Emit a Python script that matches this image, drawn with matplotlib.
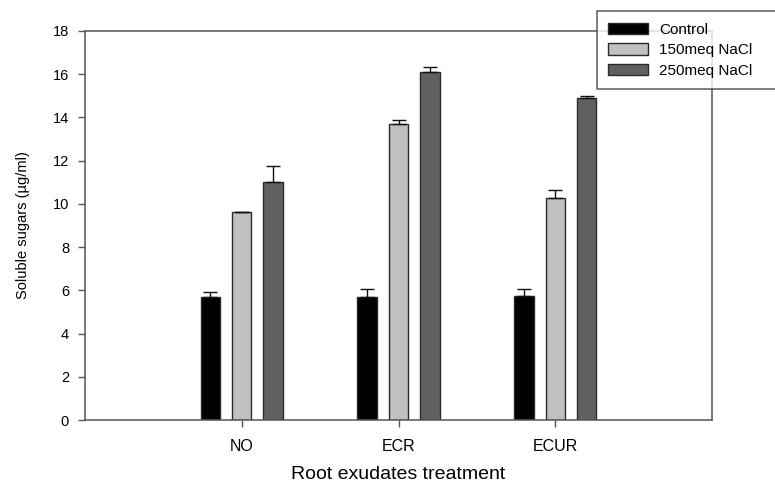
import numpy as np
import matplotlib
matplotlib.use("Agg")
import matplotlib.pyplot as plt
from matplotlib.patches import Patch

# ---------- Data ----------
TREATMENTS = ["NO", "ECR", "ECUR"]
SERIES = ["Control", "150meq NaCl", "250meq NaCl"]
MEANS = {
    "Control":     [5.71, 5.71, 5.76],
    "150meq NaCl": [9.61, 13.70, 10.29],
    "250meq NaCl": [11.03, 16.08, 14.92],
}
ERRS = {
    "Control":     [0.23, 0.35, 0.30],
    "150meq NaCl": [0.02, 0.19, 0.37],
    "250meq NaCl": [0.70, 0.26, 0.05],
}
YTICKS = [0, 2, 4, 6, 8, 10, 12, 14, 16, 18]

# ---------- Style ----------
COLORS = ["#000000", "#c0c0c0", "#606060"]
EDGE = "#2a2a2a"
AXC = "#555555"
plt.rcParams.update({
    "font.family": ["Liberation Sans", "DejaVu Sans"],
    "axes.edgecolor": AXC,
    "axes.linewidth": 1.1,
})

fig = plt.figure(figsize=(7.75, 4.84), dpi=100)
ax = fig.add_axes([0.1097, 0.1322, 0.8090, 0.8038])

x = np.arange(len(TREATMENTS))
width = 0.124
step = 0.2
for i, (name, color) in enumerate(zip(SERIES, COLORS)):
    pos = x + (i - 1) * step
    vals = np.array(MEANS[name])
    err = np.array(ERRS[name])
    ax.bar(pos, vals, width=width, color=color, edgecolor=EDGE, linewidth=1.0, zorder=2)
    ax.errorbar(pos, vals, yerr=[np.zeros_like(err), err], fmt="none",
                ecolor="#111111", elinewidth=1.0, capsize=4.7, capthick=1.0, zorder=3)

ax.set_xlim(-1, 3)
ax.set_ylim(0, 18)
ax.set_xticks(x)
ax.set_xticklabels(TREATMENTS, fontsize=11.5)
ax.set_yticks(YTICKS)
ax.set_yticklabels([str(t) for t in YTICKS], fontsize=10.5)
ax.tick_params(direction="out", length=5, width=1.0, color=AXC)
ax.tick_params(axis="y", pad=6.5)
ax.tick_params(axis="x", pad=9)

ax.set_ylabel("Soluble sugars (\u00b5g/ml)", fontsize=10.5, labelpad=16)
ax.set_xlabel("Root exudates treatment", fontsize=14, labelpad=8)

handles = [Patch(facecolor=c, edgecolor=EDGE, linewidth=1.0) for c in COLORS]
leg = fig.legend(handles, SERIES, loc="upper left",
                 bbox_to_anchor=(0.770, 0.82, 0.26, 0.157), mode="expand",
                 fontsize=11, frameon=True, fancybox=False,
                 handlelength=2.6, handleheight=0.8, handletextpad=0.72,
                 labelspacing=0.42, borderpad=0.75, borderaxespad=0)
leg.get_frame().set_edgecolor("#333333")
leg.get_frame().set_linewidth(1.1)

fig.savefig("out.png", dpi=100)
